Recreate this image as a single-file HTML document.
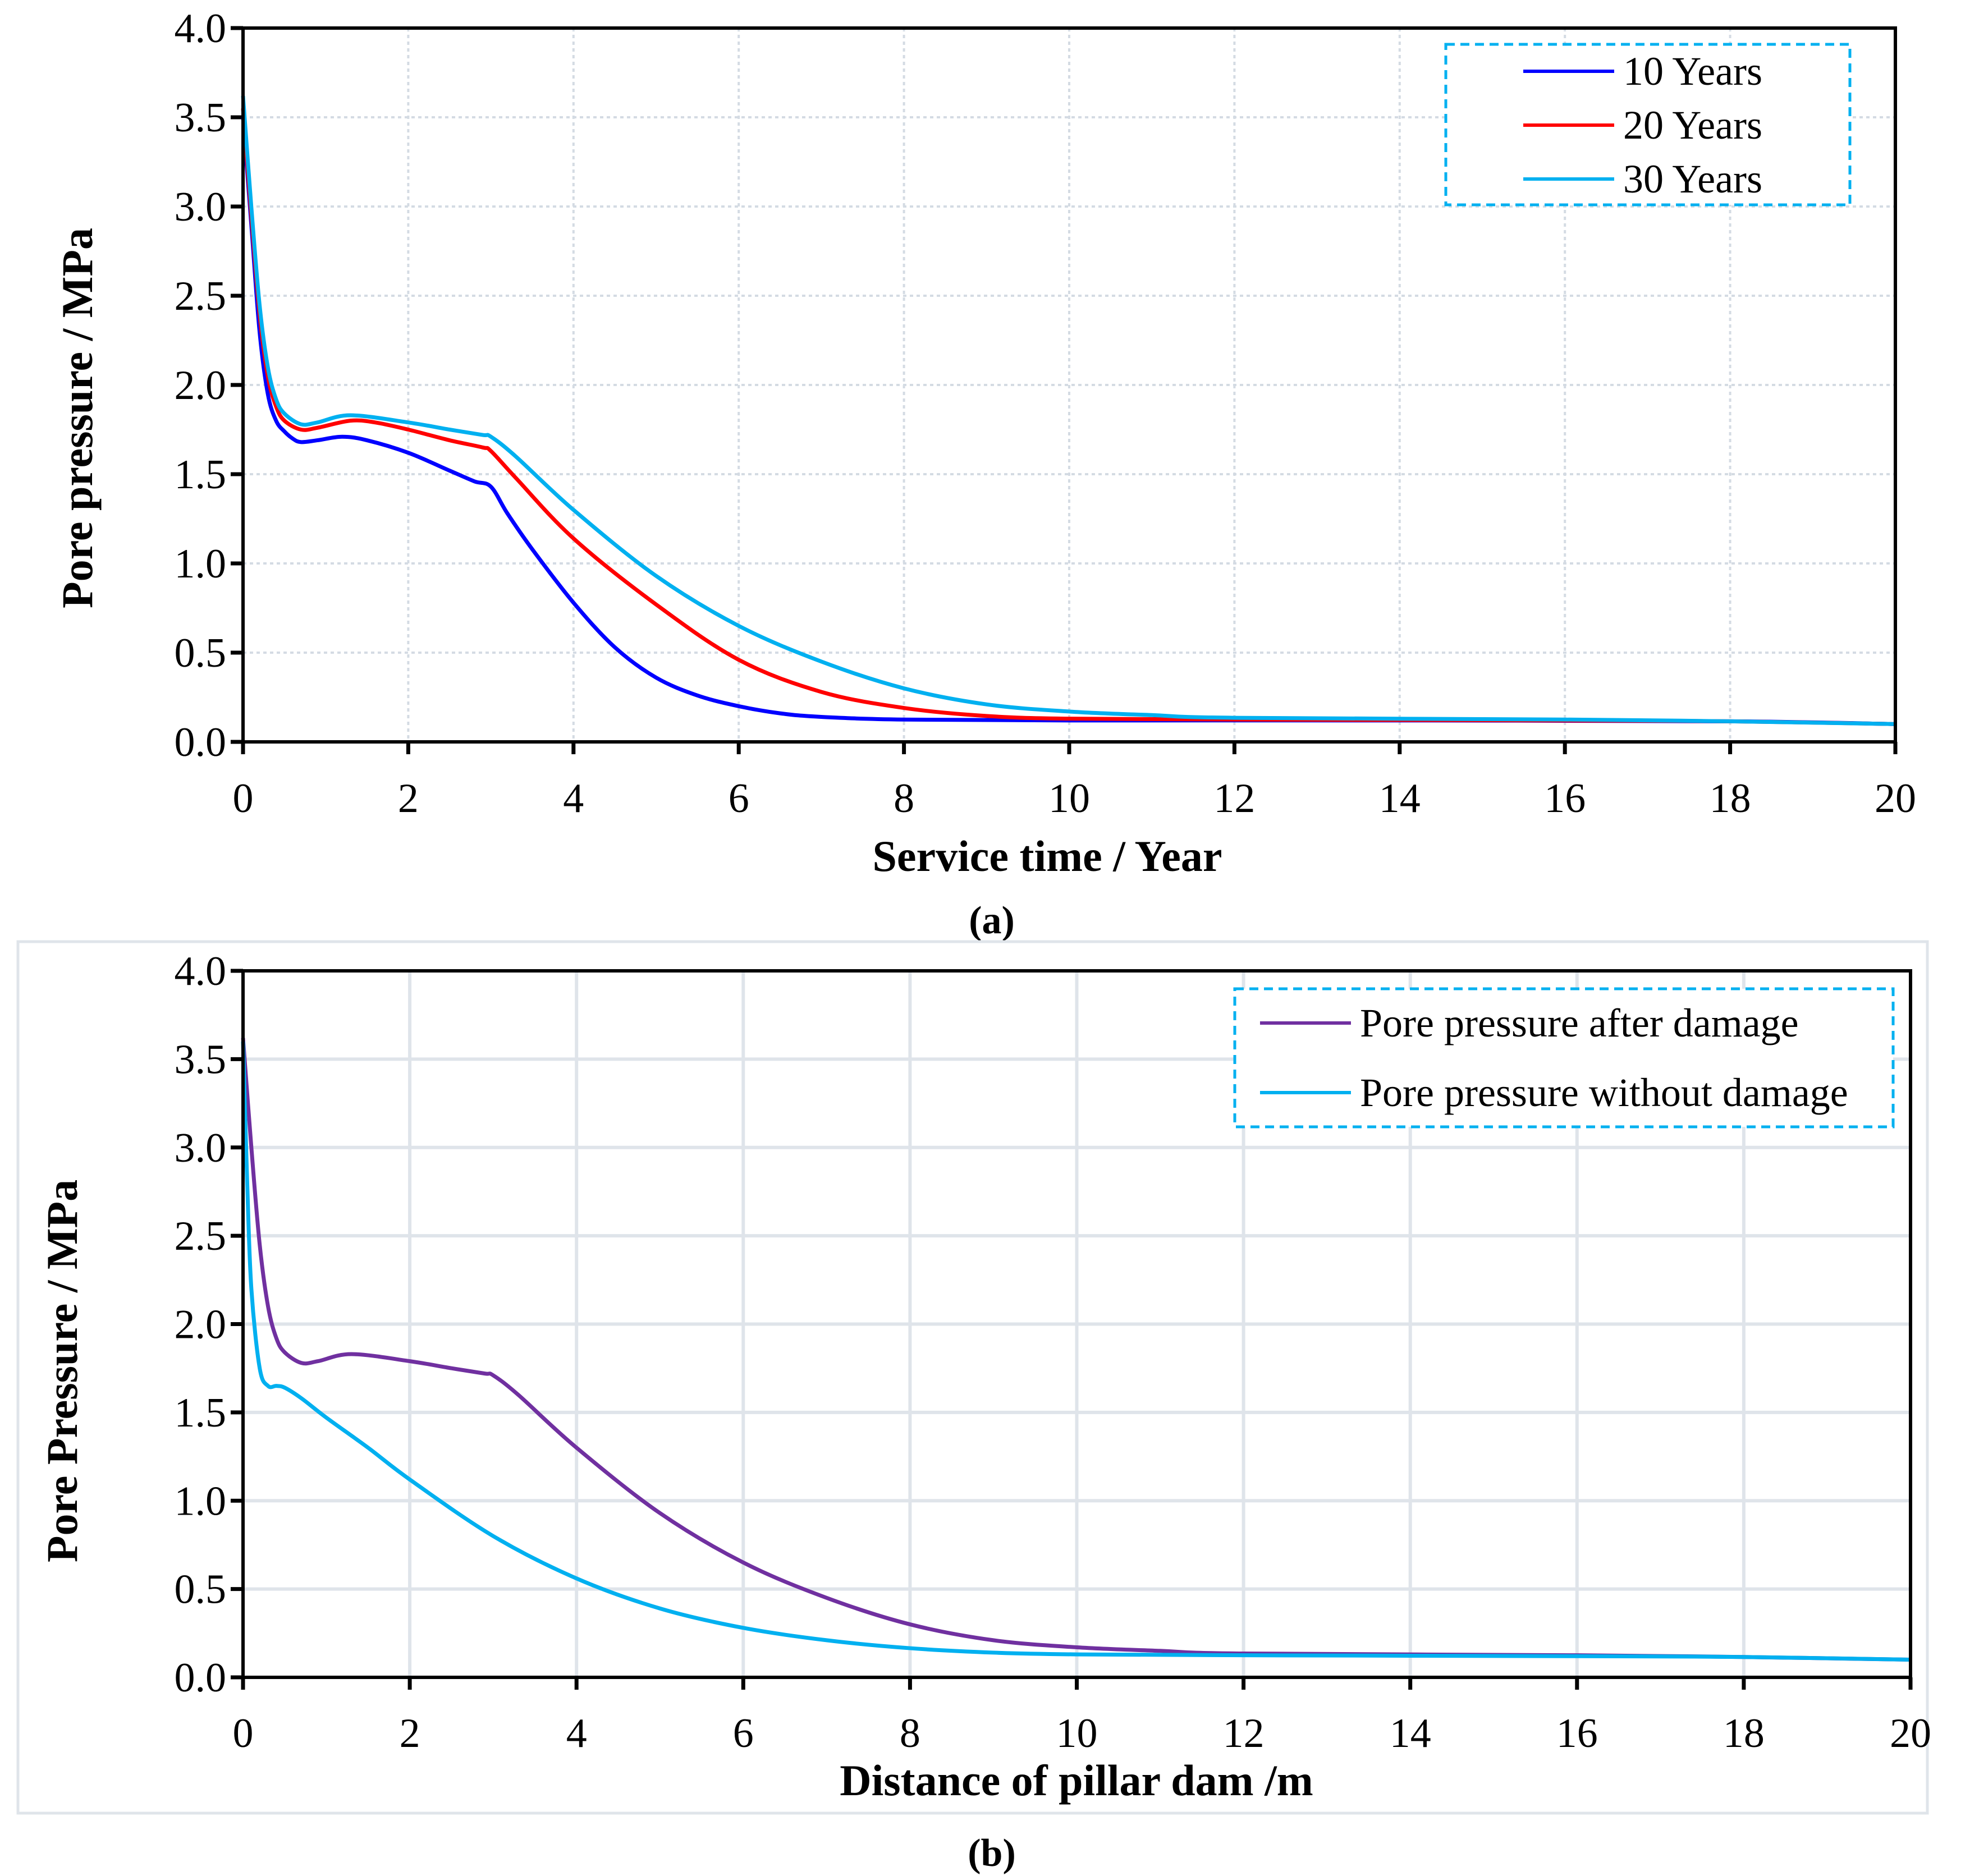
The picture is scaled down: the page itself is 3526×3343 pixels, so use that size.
<!DOCTYPE html>
<html><head><meta charset="utf-8"><style>
html,body{margin:0;padding:0;background:#fff}
svg{display:block}
text{font-family:"Liberation Serif",serif;fill:#000}
</style></head><body>
<svg id="s" width="3526" height="3343" xmlns="http://www.w3.org/2000/svg"></svg>
<script>
const xTicks=[0,2,4,6,8,10,12,14,16,18,20];
const yTicks=[0,0.5,1,1.5,2,2.5,3,3.5,4];
const yTickLabels=["0.0","0.5","1.0","1.5","2.0","2.5","3.0","3.5","4.0"];
const a10x=[0,0.1,0.2,0.3,0.4,0.5,0.6,0.7,0.9,1.2,1.5,2,2.5,2.8,3,3.2,3.5,4,4.5,5,5.5,6,6.5,7,8,10,14,18,20];
const a10y=[3.5,2.9,2.3,1.95,1.8,1.74,1.7,1.68,1.69,1.71,1.69,1.62,1.52,1.46,1.43,1.28,1.08,0.78,0.53,0.36,0.26,0.2,0.16,0.14,0.125,0.12,0.12,0.115,0.1];
const a20x=[0,0.1,0.2,0.3,0.4,0.5,0.7,0.9,1.3,1.6,2,2.5,2.9,3,3.3,4,5,6,7,8,9,10,12,16,18,20];
const a20y=[3.55,2.95,2.4,2.05,1.88,1.8,1.75,1.76,1.8,1.79,1.75,1.69,1.65,1.63,1.48,1.14,0.77,0.46,0.28,0.19,0.145,0.13,0.125,0.12,0.115,0.1];
const a30x=[0,0.1,0.2,0.3,0.4,0.5,0.7,0.9,1.3,2,2.5,2.9,3,3.3,4,5,6,7,8,9,10,11,12,16,18,20];
const a30y=[3.62,3.0,2.45,2.1,1.92,1.84,1.78,1.79,1.83,1.79,1.75,1.72,1.71,1.6,1.3,0.93,0.65,0.45,0.3,0.21,0.17,0.15,0.135,0.125,0.115,0.1];
const bNoX=[0,0.05,0.1,0.2,0.3,0.4,0.5,0.7,1,1.5,2,3,4,5,6,7,8,9,10,12,16,18,20];
const bNoY=[3.6,2.8,2.2,1.75,1.65,1.65,1.64,1.58,1.47,1.3,1.12,0.8,0.56,0.39,0.28,0.21,0.165,0.14,0.13,0.125,0.12,0.115,0.1];

const S=document.getElementById('s'),NS='http://www.w3.org/2000/svg';
function el(t,a,p){const e=document.createElementNS(NS,t);for(const k in a)e.setAttribute(k,a[k]);(p||S).appendChild(e);return e;}
function smooth(pts){let d='M'+pts[0][0]+','+pts[0][1];for(let i=0;i<pts.length-1;i++){const p0=pts[Math.max(0,i-1)],p1=pts[i],p2=pts[i+1],p3=pts[Math.min(pts.length-1,i+2)];
d+=' C'+(p1[0]+(p2[0]-p0[0])/6)+','+(p1[1]+(p2[1]-p0[1])/6)+' '+(p2[0]-(p3[0]-p1[0])/6)+','+(p2[1]-(p3[1]-p1[1])/6)+' '+p2[0]+','+p2[1];}return d;}

function chart(o){
  const X=v=>o.x0+(o.x1-o.x0)*v/20, Y=v=>o.y0-(o.y0-o.y1)*v/4;
  const g=el('g',{});
  if(o.frame){const f=el('rect',{x:o.frame[0],y:o.frame[1],width:o.frame[2],height:o.frame[3],fill:'none',stroke:'#dfe4ea','stroke-width':5},g);}
  xTicks.forEach(v=>{if(v>0&&v<20){const l=el('line',{x1:X(v),x2:X(v),y1:o.y1,y2:o.y0,stroke:o.dotted?'#d4dbe3':'#dfe4ea','stroke-width':o.dotted?4:6,'stroke-dasharray':o.dotted?'6,6':'none'},g);}
    const t=el('text',{x:X(v),y:o.y0+o.xlab,'font-size':74,'text-anchor':'middle'},g);t.textContent=v;
    el('line',{x1:X(v),x2:X(v),y1:o.y0,y2:o.y0+22,stroke:'#000','stroke-width':7},g);});
  yTicks.forEach((v,i)=>{if(v>0&&v<4){const l=el('line',{x1:o.x0,x2:o.x1,y1:Y(v),y2:Y(v),stroke:o.dotted?'#d4dbe3':'#dfe4ea','stroke-width':o.dotted?4:6,'stroke-dasharray':o.dotted?'6,6':'none'},g);}
    const t=el('text',{x:o.x0-30,y:Y(v)+25,'font-size':74,'text-anchor':'end'},g);t.textContent=yTickLabels[i];
    el('line',{x1:o.x0-22,x2:o.x0,y1:Y(v),y2:Y(v),stroke:'#000','stroke-width':7},g);});
  o.series.forEach(s=>{const p=el('path',{d:smooth(s.x.map((v,i)=>[X(v),Y(s.y[i])])),fill:'none',stroke:s.c,'stroke-width':7},g);});
  const ax=el('path',{d:`M${o.x0},${o.y1} H${o.x1} V${o.y0} H${o.x0} Z`,fill:'none',stroke:'#000','stroke-width':6},g);
  const lg=o.legend;const lr=el('rect',{x:lg.x,y:lg.y,width:lg.w,height:lg.h,fill:'#fff',stroke:'#00b0f0','stroke-width':5,'stroke-dasharray':'16,10'},g);
  o.series.forEach((s,i)=>{const yy=lg.y+lg.first+i*lg.step;el('line',{x1:lg.x+lg.lx,x2:lg.x+lg.lx+162,y1:yy,y2:yy,stroke:s.c,'stroke-width':6},g);
    const t=el('text',{x:lg.x+lg.lx+178,y:yy+24,'font-size':72},g);t.textContent=s.label;});
  const xt=el('text',{x:o.xt[0],y:o.xt[1],'font-size':78,'font-weight':'bold','text-anchor':'middle'},g);xt.textContent=o.xtitle;
  const yt=el('text',{x:0,y:0,'font-size':78,'font-weight':'bold','text-anchor':'middle',transform:`translate(${o.yt[0]},${o.yt[1]}) rotate(-90)`},g);yt.textContent=o.ytitle;
  const cp=el('text',{x:o.cap[0],y:o.cap[1],'font-size':70,'font-weight':'bold','text-anchor':'middle'},g);cp.textContent=o.capt;
}
chart({name:'chart-a',x0:433,x1:3377,y0:1322,y1:50,dotted:true,xlab:125,
 series:[{x:a10x,y:a10y,c:'#0000ff',n:'line-10-years',label:'10 Years'},{x:a20x,y:a20y,c:'#ff0000',n:'line-20-years',label:'20 Years'},{x:a30x,y:a30y,c:'#00b0f0',n:'line-30-years',label:'30 Years'}],
 legend:{x:2576,y:79,w:720,h:286,lx:138,first:48,step:96},
 xt:[1866,1552],xtitle:'Service time / Year',yt:[164,745],ytitle:'Pore pressure / MPa',cap:[1767,1663],capt:'(a)'});
chart({name:'chart-b',x0:433,x1:3404,y0:2989,y1:1730,dotted:false,frame:[32,1678,3402,1553],xlab:124,
 series:[{x:a30x,y:a30y,c:'#7030a0',n:'line-after-damage',label:'Pore pressure after damage'},{x:bNoX,y:bNoY,c:'#00b0f0',n:'line-without-damage',label:'Pore pressure without damage'}],
 legend:{x:2200,y:1762,w:1173,h:246,lx:45,first:61,step:124},
 xt:[1918,3199],xtitle:'Distance of pillar dam /m',yt:[137,2443],ytitle:'Pore Pressure / MPa',cap:[1767,3325],capt:'(b)'});
</script>
</body></html>
